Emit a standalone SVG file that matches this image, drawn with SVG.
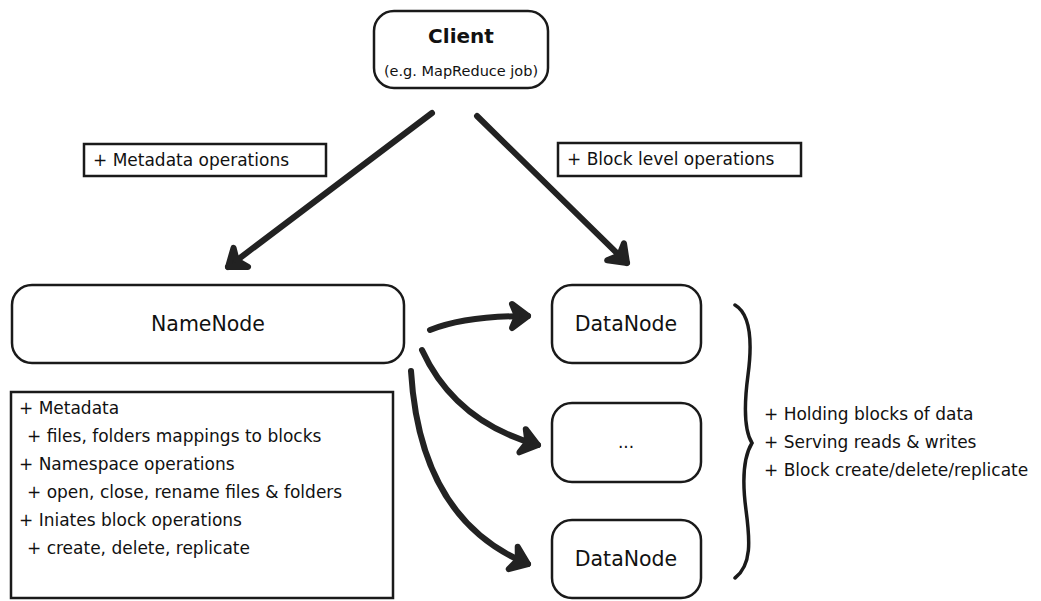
<svg xmlns="http://www.w3.org/2000/svg" width="1041" height="601" viewBox="0 0 1041 601">
<defs>
<style>
.box{fill:#fff;stroke:#1a1a1a;stroke-width:2.5}
.t{font-family:"DejaVu Sans","Liberation Sans",sans-serif;fill:#111}
.s{font-size:17px}
.nd{font-size:20.5px}
.conn{fill:none;stroke:#222;stroke-width:6;stroke-linecap:round}
</style>
<marker id="ah" markerUnits="userSpaceOnUse" markerWidth="40" markerHeight="40" viewBox="-24 -20 40 40" refX="0" refY="0" orient="auto">
<path d="M -16 -12 L 0 0 L -16 12 L -11 0 Z" fill="#222" stroke="#222" stroke-width="6" stroke-linejoin="round"/>
</marker>
</defs>
<rect width="1041" height="601" fill="#fff"/>

<g id="client">
<rect class="box" x="374" y="11" width="174" height="77" rx="20"/>
<text class="t" x="461" y="43" font-size="20" font-weight="bold" text-anchor="middle">Client</text>
<text class="t" x="461" y="76" font-size="14.5" text-anchor="middle">(e.g. MapReduce job)</text>
</g>

<g id="label-metadata-ops">
<rect class="box" x="84" y="144" width="242" height="32"/>
<text class="t s" x="93" y="166">+ Metadata operations</text>
</g>

<g id="label-block-ops">
<rect class="box" x="558" y="143" width="243" height="33"/>
<text class="t s" x="567" y="165">+ Block level operations</text>
</g>

<g id="namenode">
<rect class="box" x="12" y="285" width="392" height="78" rx="20"/>
<text class="t nd" x="208" y="331" text-anchor="middle">NameNode</text>
</g>

<g id="namenode-details">
<rect class="box" x="11" y="392" width="382" height="206"/>
<text class="t s" x="19" y="414">+ Metadata</text>
<text class="t s" x="27" y="442">+ files, folders mappings to blocks</text>
<text class="t s" x="19" y="470">+ Namespace operations</text>
<text class="t s" x="27" y="498">+ open, close, rename files &amp; folders</text>
<text class="t s" x="19" y="526">+ Iniates block operations</text>
<text class="t s" x="27" y="554">+ create, delete, replicate</text>
</g>

<g id="datanode1">
<rect class="box" x="552" y="285" width="149" height="78" rx="20"/>
<text class="t nd" x="626" y="331" text-anchor="middle">DataNode</text>
</g>

<g id="datanode-ellipsis">
<rect class="box" x="552" y="403" width="149" height="79" rx="20"/>
<text class="t" x="626" y="448" font-size="17" text-anchor="middle">...</text>
</g>

<g id="datanode2">
<rect class="box" x="552" y="520" width="149" height="78" rx="20"/>
<text class="t nd" x="626" y="566" text-anchor="middle">DataNode</text>
</g>

<g id="datanode-brace">
<path d="M 735 305 C 752 315 752 345 748 375 C 744 405 744 430 752 443 C 744 456 742 480 746 510 C 750 540 752 565 735 578" fill="none" stroke="#1a1a1a" stroke-width="3.5" stroke-linecap="round"/>
<text class="t s" x="764" y="420">+ Holding blocks of data</text>
<text class="t s" x="764" y="448">+ Serving reads &amp; writes</text>
<text class="t s" x="764" y="476">+ Block create/delete/replicate</text>
</g>

<g id="connectors">
<path class="conn" d="M 432 113 L 228 267" marker-end="url(#ah)"/>
<path class="conn" d="M 477 116 L 627 263" marker-end="url(#ah)"/>
<path class="conn" d="M 430 330 Q 465 316 528 316" marker-end="url(#ah)"/>
<path class="conn" d="M 422 350 Q 455 422 538 445" marker-end="url(#ah)"/>
<path class="conn" d="M 411 371 Q 420 520 528 564" marker-end="url(#ah)"/>
</g>
</svg>
